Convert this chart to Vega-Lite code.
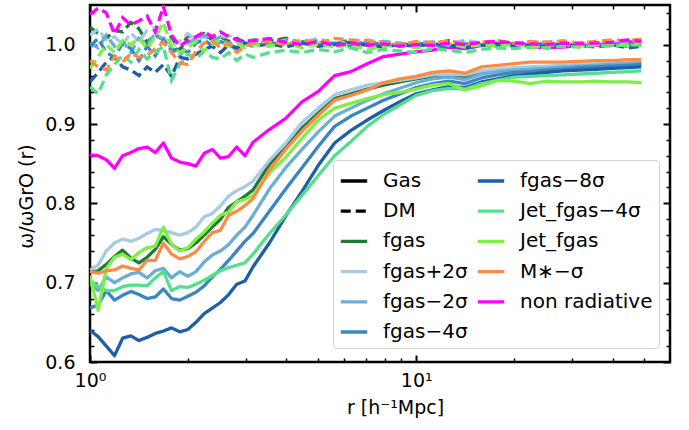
{
"$schema": "https://vega.github.io/schema/vega-lite/v6.json",
"width": 580, "height": 357,
"autosize": {"type": "none"},
"padding": {"left": 90, "top": 5, "right": 19, "bottom": 68},
"background": "white",
"config": {
  "font": "DejaVu Sans",
  "view": {"stroke": "#000000", "strokeWidth": 2.5},
  "axis": {"grid": false, "domain": false, "labelFont": "DejaVu Sans", "titleFont": "DejaVu Sans", "labelFontSize": 19, "titleFontSize": 19, "labelColor": "#000000", "titleColor": "#000000", "titleFontWeight": "normal", "tickColor": "#000000", "labelFlush": false, "zindex": 1},
  "legend": {"orient": "none", "legendX": 243, "legendY": 155, "columns": 2, "gridAlign": "each", "symbolType": "stroke", "symbolSize": 700, "symbolStrokeWidth": 3.3, "labelFontSize": 20, "labelFont": "DejaVu Sans", "labelColor": "#000000", "padding": 6, "rowPadding": 5.2, "columnPadding": 3, "labelOffset": 14, "strokeColor": "#d0d0d0", "fillColor": "#ffffff", "cornerRadius": 4, "labelLimit": 300}
},
"data": {"values": [
{"model":"fgas","r":1,"gas":0.713,"dm":1.022},{"model":"fgas","r":1.059,"gas":0.715,"dm":1.014},{"model":"fgas","r":1.122,"gas":0.723,"dm":1.008},{"model":"fgas","r":1.189,"gas":0.733,"dm":1.018},{"model":"fgas","r":1.259,"gas":0.741,"dm":1.016},{"model":"fgas","r":1.334,"gas":0.731,"dm":1.028},{"model":"fgas","r":1.413,"gas":0.725,"dm":1.020},{"model":"fgas","r":1.496,"gas":0.732,"dm":1.003},{"model":"fgas","r":1.585,"gas":0.742,"dm":1.012},{"model":"fgas","r":1.679,"gas":0.758,"dm":1.006},{"model":"fgas","r":1.778,"gas":0.748,"dm":1.010},{"model":"fgas","r":1.884,"gas":0.741,"dm":0.992},{"model":"fgas","r":1.995,"gas":0.743,"dm":1.012},{"model":"fgas","r":2.113,"gas":0.750,"dm":1.008},{"model":"fgas","r":2.239,"gas":0.760,"dm":1.014},{"model":"fgas","r":2.371,"gas":0.770,"dm":1.006},{"model":"fgas","r":2.512,"gas":0.780,"dm":1.010},{"model":"fgas","r":2.661,"gas":0.795,"dm":1.004},{"model":"fgas","r":2.818,"gas":0.802,"dm":1.008},{"model":"fgas","r":2.985,"gas":0.809,"dm":1.003},{"model":"fgas","r":3.162,"gas":0.817,"dm":1.006},{"model":"fgas","r":3.548,"gas":0.849,"dm":1.004},{"model":"fgas","r":3.981,"gas":0.870,"dm":1.008},{"model":"fgas","r":4.467,"gas":0.895,"dm":1.002},{"model":"fgas","r":5.012,"gas":0.914,"dm":1.005},{"model":"fgas","r":5.623,"gas":0.932,"dm":1.001},{"model":"fgas","r":6.31,"gas":0.938,"dm":1.006},{"model":"fgas","r":7.079,"gas":0.944,"dm":1.000},{"model":"fgas","r":7.943,"gas":0.949,"dm":1.004},{"model":"fgas","r":8.913,"gas":0.953,"dm":0.999},{"model":"fgas","r":10,"gas":0.957,"dm":1.003},{"model":"fgas","r":11.22,"gas":0.960,"dm":1.001},{"model":"fgas","r":12.59,"gas":0.962,"dm":1.005},{"model":"fgas","r":14.13,"gas":0.958,"dm":0.999},{"model":"fgas","r":15.85,"gas":0.966,"dm":1.002},{"model":"fgas","r":17.78,"gas":0.968,"dm":1.004},{"model":"fgas","r":19.95,"gas":0.970,"dm":1.001},{"model":"fgas","r":22.39,"gas":0.971,"dm":1.003},{"model":"fgas","r":25.12,"gas":0.972,"dm":1.000},{"model":"fgas","r":28.18,"gas":0.973,"dm":1.002},{"model":"fgas","r":31.62,"gas":0.974,"dm":0.999},{"model":"fgas","r":35.48,"gas":0.975,"dm":1.001},{"model":"fgas","r":39.81,"gas":0.975,"dm":1.000},{"model":"fgas","r":44.67,"gas":0.976,"dm":0.998},{"model":"fgas","r":48.98,"gas":0.976,"dm":1.000},
{"model":"fgas+2σ","r":1,"gas":0.716,"dm":1.012},{"model":"fgas+2σ","r":1.059,"gas":0.722,"dm":1.020},{"model":"fgas+2σ","r":1.122,"gas":0.740,"dm":1.006},{"model":"fgas+2σ","r":1.189,"gas":0.750,"dm":1.010},{"model":"fgas+2σ","r":1.259,"gas":0.755,"dm":1.000},{"model":"fgas+2σ","r":1.334,"gas":0.752,"dm":1.015},{"model":"fgas+2σ","r":1.413,"gas":0.756,"dm":1.004},{"model":"fgas+2σ","r":1.496,"gas":0.762,"dm":1.018},{"model":"fgas+2σ","r":1.585,"gas":0.767,"dm":1.022},{"model":"fgas+2σ","r":1.679,"gas":0.766,"dm":1.010},{"model":"fgas+2σ","r":1.778,"gas":0.763,"dm":0.998},{"model":"fgas+2σ","r":1.884,"gas":0.760,"dm":1.004},{"model":"fgas+2σ","r":1.995,"gas":0.763,"dm":1.014},{"model":"fgas+2σ","r":2.113,"gas":0.770,"dm":1.006},{"model":"fgas+2σ","r":2.239,"gas":0.783,"dm":1.010},{"model":"fgas+2σ","r":2.371,"gas":0.787,"dm":1.002},{"model":"fgas+2σ","r":2.512,"gas":0.797,"dm":1.008},{"model":"fgas+2σ","r":2.661,"gas":0.809,"dm":1.012},{"model":"fgas+2σ","r":2.818,"gas":0.816,"dm":1.004},{"model":"fgas+2σ","r":2.985,"gas":0.821,"dm":1.000},{"model":"fgas+2σ","r":3.162,"gas":0.828,"dm":1.006},{"model":"fgas+2σ","r":3.548,"gas":0.854,"dm":1.002},{"model":"fgas+2σ","r":3.981,"gas":0.876,"dm":1.006},{"model":"fgas+2σ","r":4.467,"gas":0.902,"dm":1.003},{"model":"fgas+2σ","r":5.012,"gas":0.920,"dm":1.008},{"model":"fgas+2σ","r":5.623,"gas":0.937,"dm":1.001},{"model":"fgas+2σ","r":6.31,"gas":0.943,"dm":1.004},{"model":"fgas+2σ","r":7.079,"gas":0.949,"dm":1.006},{"model":"fgas+2σ","r":7.943,"gas":0.952,"dm":1.002},{"model":"fgas+2σ","r":8.913,"gas":0.955,"dm":1.000},{"model":"fgas+2σ","r":10,"gas":0.958,"dm":1.003},{"model":"fgas+2σ","r":11.22,"gas":0.962,"dm":1.004},{"model":"fgas+2σ","r":12.59,"gas":0.963,"dm":1.001},{"model":"fgas+2σ","r":14.13,"gas":0.962,"dm":1.006},{"model":"fgas+2σ","r":15.85,"gas":0.967,"dm":1.002},{"model":"fgas+2σ","r":17.78,"gas":0.969,"dm":1.003},{"model":"fgas+2σ","r":19.95,"gas":0.971,"dm":1.000},{"model":"fgas+2σ","r":22.39,"gas":0.972,"dm":1.002},{"model":"fgas+2σ","r":25.12,"gas":0.973,"dm":1.004},{"model":"fgas+2σ","r":28.18,"gas":0.974,"dm":1.001},{"model":"fgas+2σ","r":31.62,"gas":0.975,"dm":1.003},{"model":"fgas+2σ","r":35.48,"gas":0.976,"dm":1.002},{"model":"fgas+2σ","r":39.81,"gas":0.976,"dm":1.004},{"model":"fgas+2σ","r":44.67,"gas":0.977,"dm":1.006},{"model":"fgas+2σ","r":48.98,"gas":0.977,"dm":1.005},
{"model":"fgas−2σ","r":1,"gas":0.698,"dm":1.002},{"model":"fgas−2σ","r":1.059,"gas":0.690,"dm":0.996},{"model":"fgas−2σ","r":1.122,"gas":0.707,"dm":1.012},{"model":"fgas−2σ","r":1.189,"gas":0.700,"dm":0.998},{"model":"fgas−2σ","r":1.259,"gas":0.706,"dm":1.004},{"model":"fgas−2σ","r":1.334,"gas":0.711,"dm":0.990},{"model":"fgas−2σ","r":1.413,"gas":0.713,"dm":1.008},{"model":"fgas−2σ","r":1.496,"gas":0.706,"dm":1.000},{"model":"fgas−2σ","r":1.585,"gas":0.715,"dm":1.014},{"model":"fgas−2σ","r":1.679,"gas":0.718,"dm":1.006},{"model":"fgas−2σ","r":1.778,"gas":0.706,"dm":0.996},{"model":"fgas−2σ","r":1.884,"gas":0.714,"dm":0.985},{"model":"fgas−2σ","r":1.995,"gas":0.708,"dm":1.002},{"model":"fgas−2σ","r":2.113,"gas":0.714,"dm":1.008},{"model":"fgas−2σ","r":2.239,"gas":0.726,"dm":1.012},{"model":"fgas−2σ","r":2.371,"gas":0.735,"dm":1.004},{"model":"fgas−2σ","r":2.512,"gas":0.740,"dm":1.010},{"model":"fgas−2σ","r":2.661,"gas":0.748,"dm":1.000},{"model":"fgas−2σ","r":2.818,"gas":0.760,"dm":1.006},{"model":"fgas−2σ","r":2.985,"gas":0.770,"dm":0.998},{"model":"fgas−2σ","r":3.162,"gas":0.785,"dm":1.004},{"model":"fgas−2σ","r":3.548,"gas":0.818,"dm":1.000},{"model":"fgas−2σ","r":3.981,"gas":0.845,"dm":1.005},{"model":"fgas−2σ","r":4.467,"gas":0.868,"dm":1.002},{"model":"fgas−2σ","r":5.012,"gas":0.890,"dm":1.006},{"model":"fgas−2σ","r":5.623,"gas":0.910,"dm":1.000},{"model":"fgas−2σ","r":6.31,"gas":0.920,"dm":1.003},{"model":"fgas−2σ","r":7.079,"gas":0.930,"dm":1.001},{"model":"fgas−2σ","r":7.943,"gas":0.938,"dm":1.004},{"model":"fgas−2σ","r":8.913,"gas":0.945,"dm":1.002},{"model":"fgas−2σ","r":10,"gas":0.952,"dm":1.000},{"model":"fgas−2σ","r":11.22,"gas":0.957,"dm":1.003},{"model":"fgas−2σ","r":12.59,"gas":0.959,"dm":0.999},{"model":"fgas−2σ","r":14.13,"gas":0.956,"dm":1.004},{"model":"fgas−2σ","r":15.85,"gas":0.963,"dm":1.001},{"model":"fgas−2σ","r":17.78,"gas":0.966,"dm":1.002},{"model":"fgas−2σ","r":19.95,"gas":0.968,"dm":1.000},{"model":"fgas−2σ","r":22.39,"gas":0.969,"dm":1.003},{"model":"fgas−2σ","r":25.12,"gas":0.970,"dm":1.001},{"model":"fgas−2σ","r":28.18,"gas":0.972,"dm":1.000},{"model":"fgas−2σ","r":31.62,"gas":0.973,"dm":1.002},{"model":"fgas−2σ","r":35.48,"gas":0.974,"dm":1.001},{"model":"fgas−2σ","r":39.81,"gas":0.975,"dm":1.000},{"model":"fgas−2σ","r":44.67,"gas":0.976,"dm":1.003},{"model":"fgas−2σ","r":48.98,"gas":0.977,"dm":1.004},
{"model":"fgas−4σ","r":1,"gas":0.668,"dm":0.998},{"model":"fgas−4σ","r":1.059,"gas":0.672,"dm":1.008},{"model":"fgas−4σ","r":1.122,"gas":0.690,"dm":0.990},{"model":"fgas−4σ","r":1.189,"gas":0.678,"dm":0.984},{"model":"fgas−4σ","r":1.259,"gas":0.684,"dm":1.002},{"model":"fgas−4σ","r":1.334,"gas":0.689,"dm":0.995},{"model":"fgas−4σ","r":1.413,"gas":0.685,"dm":0.980},{"model":"fgas−4σ","r":1.496,"gas":0.680,"dm":0.998},{"model":"fgas−4σ","r":1.585,"gas":0.682,"dm":0.986},{"model":"fgas−4σ","r":1.679,"gas":0.692,"dm":1.006},{"model":"fgas−4σ","r":1.778,"gas":0.680,"dm":0.992},{"model":"fgas−4σ","r":1.884,"gas":0.678,"dm":0.996},{"model":"fgas−4σ","r":1.995,"gas":0.683,"dm":0.990},{"model":"fgas−4σ","r":2.113,"gas":0.688,"dm":1.002},{"model":"fgas−4σ","r":2.239,"gas":0.696,"dm":1.006},{"model":"fgas−4σ","r":2.371,"gas":0.707,"dm":0.998},{"model":"fgas−4σ","r":2.512,"gas":0.717,"dm":1.004},{"model":"fgas−4σ","r":2.661,"gas":0.728,"dm":1.000},{"model":"fgas−4σ","r":2.818,"gas":0.740,"dm":0.994},{"model":"fgas−4σ","r":2.985,"gas":0.752,"dm":1.002},{"model":"fgas−4σ","r":3.162,"gas":0.762,"dm":0.998},{"model":"fgas−4σ","r":3.548,"gas":0.790,"dm":1.003},{"model":"fgas−4σ","r":3.981,"gas":0.818,"dm":0.999},{"model":"fgas−4σ","r":4.467,"gas":0.845,"dm":1.004},{"model":"fgas−4σ","r":5.012,"gas":0.872,"dm":1.000},{"model":"fgas−4σ","r":5.623,"gas":0.897,"dm":1.002},{"model":"fgas−4σ","r":6.31,"gas":0.910,"dm":0.998},{"model":"fgas−4σ","r":7.079,"gas":0.920,"dm":1.003},{"model":"fgas−4σ","r":7.943,"gas":0.930,"dm":1.000},{"model":"fgas−4σ","r":8.913,"gas":0.938,"dm":0.999},{"model":"fgas−4σ","r":10,"gas":0.946,"dm":1.002},{"model":"fgas−4σ","r":11.22,"gas":0.951,"dm":1.000},{"model":"fgas−4σ","r":12.59,"gas":0.954,"dm":0.998},{"model":"fgas−4σ","r":14.13,"gas":0.951,"dm":1.001},{"model":"fgas−4σ","r":15.85,"gas":0.958,"dm":1.000},{"model":"fgas−4σ","r":17.78,"gas":0.962,"dm":0.998},{"model":"fgas−4σ","r":19.95,"gas":0.965,"dm":1.001},{"model":"fgas−4σ","r":22.39,"gas":0.966,"dm":0.999},{"model":"fgas−4σ","r":25.12,"gas":0.968,"dm":1.002},{"model":"fgas−4σ","r":28.18,"gas":0.969,"dm":1.000},{"model":"fgas−4σ","r":31.62,"gas":0.971,"dm":0.998},{"model":"fgas−4σ","r":35.48,"gas":0.972,"dm":1.000},{"model":"fgas−4σ","r":39.81,"gas":0.973,"dm":1.001},{"model":"fgas−4σ","r":44.67,"gas":0.974,"dm":0.999},{"model":"fgas−4σ","r":48.98,"gas":0.975,"dm":1.002},
{"model":"fgas−8σ","r":1,"gas":0.640,"dm":0.953},{"model":"fgas−8σ","r":1.059,"gas":0.632,"dm":0.965},{"model":"fgas−8σ","r":1.122,"gas":0.620,"dm":0.978},{"model":"fgas−8σ","r":1.189,"gas":0.608,"dm":0.985},{"model":"fgas−8σ","r":1.259,"gas":0.630,"dm":0.972},{"model":"fgas−8σ","r":1.334,"gas":0.633,"dm":0.968},{"model":"fgas−8σ","r":1.413,"gas":0.627,"dm":0.961},{"model":"fgas−8σ","r":1.496,"gas":0.631,"dm":0.972},{"model":"fgas−8σ","r":1.585,"gas":0.636,"dm":0.965},{"model":"fgas−8σ","r":1.679,"gas":0.639,"dm":0.975},{"model":"fgas−8σ","r":1.778,"gas":0.643,"dm":0.960},{"model":"fgas−8σ","r":1.884,"gas":0.638,"dm":0.984},{"model":"fgas−8σ","r":1.995,"gas":0.641,"dm":0.982},{"model":"fgas−8σ","r":2.113,"gas":0.650,"dm":0.988},{"model":"fgas−8σ","r":2.239,"gas":0.661,"dm":0.994},{"model":"fgas−8σ","r":2.371,"gas":0.668,"dm":0.998},{"model":"fgas−8σ","r":2.512,"gas":0.675,"dm":0.990},{"model":"fgas−8σ","r":2.661,"gas":0.685,"dm":1.000},{"model":"fgas−8σ","r":2.818,"gas":0.698,"dm":0.996},{"model":"fgas−8σ","r":2.985,"gas":0.702,"dm":1.002},{"model":"fgas−8σ","r":3.162,"gas":0.720,"dm":0.998},{"model":"fgas−8σ","r":3.548,"gas":0.750,"dm":1.001},{"model":"fgas−8σ","r":3.981,"gas":0.784,"dm":0.997},{"model":"fgas−8σ","r":4.467,"gas":0.815,"dm":1.002},{"model":"fgas−8σ","r":5.012,"gas":0.848,"dm":0.998},{"model":"fgas−8σ","r":5.623,"gas":0.876,"dm":1.000},{"model":"fgas−8σ","r":6.31,"gas":0.892,"dm":1.003},{"model":"fgas−8σ","r":7.079,"gas":0.905,"dm":0.999},{"model":"fgas−8σ","r":7.943,"gas":0.917,"dm":0.997},{"model":"fgas−8σ","r":8.913,"gas":0.928,"dm":1.000},{"model":"fgas−8σ","r":10,"gas":0.938,"dm":0.998},{"model":"fgas−8σ","r":11.22,"gas":0.943,"dm":1.001},{"model":"fgas−8σ","r":12.59,"gas":0.947,"dm":0.999},{"model":"fgas−8σ","r":14.13,"gas":0.946,"dm":0.996},{"model":"fgas−8σ","r":15.85,"gas":0.953,"dm":0.999},{"model":"fgas−8σ","r":17.78,"gas":0.957,"dm":1.001},{"model":"fgas−8σ","r":19.95,"gas":0.961,"dm":0.998},{"model":"fgas−8σ","r":22.39,"gas":0.963,"dm":1.000},{"model":"fgas−8σ","r":25.12,"gas":0.965,"dm":0.997},{"model":"fgas−8σ","r":28.18,"gas":0.967,"dm":1.000},{"model":"fgas−8σ","r":31.62,"gas":0.968,"dm":0.999},{"model":"fgas−8σ","r":35.48,"gas":0.969,"dm":0.997},{"model":"fgas−8σ","r":39.81,"gas":0.970,"dm":1.000},{"model":"fgas−8σ","r":44.67,"gas":0.971,"dm":0.996},{"model":"fgas−8σ","r":48.98,"gas":0.972,"dm":0.998},
{"model":"Jet_fgas−4σ","r":1,"gas":0.703,"dm":0.947},{"model":"Jet_fgas−4σ","r":1.059,"gas":0.695,"dm":0.938},{"model":"Jet_fgas−4σ","r":1.122,"gas":0.690,"dm":0.962},{"model":"Jet_fgas−4σ","r":1.189,"gas":0.690,"dm":0.975},{"model":"Jet_fgas−4σ","r":1.259,"gas":0.695,"dm":0.987},{"model":"Jet_fgas−4σ","r":1.334,"gas":0.697,"dm":0.978},{"model":"Jet_fgas−4σ","r":1.413,"gas":0.697,"dm":0.994},{"model":"Jet_fgas−4σ","r":1.496,"gas":0.696,"dm":0.982},{"model":"Jet_fgas−4σ","r":1.585,"gas":0.706,"dm":0.990},{"model":"Jet_fgas−4σ","r":1.679,"gas":0.714,"dm":0.998},{"model":"Jet_fgas−4σ","r":1.778,"gas":0.690,"dm":0.955},{"model":"Jet_fgas−4σ","r":1.884,"gas":0.695,"dm":0.975},{"model":"Jet_fgas−4σ","r":1.995,"gas":0.694,"dm":0.988},{"model":"Jet_fgas−4σ","r":2.113,"gas":0.698,"dm":0.982},{"model":"Jet_fgas−4σ","r":2.239,"gas":0.703,"dm":0.992},{"model":"Jet_fgas−4σ","r":2.371,"gas":0.709,"dm":0.984},{"model":"Jet_fgas−4σ","r":2.512,"gas":0.715,"dm":0.982},{"model":"Jet_fgas−4σ","r":2.661,"gas":0.719,"dm":0.990},{"model":"Jet_fgas−4σ","r":2.818,"gas":0.722,"dm":0.980},{"model":"Jet_fgas−4σ","r":2.985,"gas":0.725,"dm":0.988},{"model":"Jet_fgas−4σ","r":3.162,"gas":0.736,"dm":0.984},{"model":"Jet_fgas−4σ","r":3.548,"gas":0.762,"dm":0.990},{"model":"Jet_fgas−4σ","r":3.981,"gas":0.785,"dm":0.993},{"model":"Jet_fgas−4σ","r":4.467,"gas":0.810,"dm":0.990},{"model":"Jet_fgas−4σ","r":5.012,"gas":0.835,"dm":0.994},{"model":"Jet_fgas−4σ","r":5.623,"gas":0.860,"dm":0.991},{"model":"Jet_fgas−4σ","r":6.31,"gas":0.878,"dm":0.996},{"model":"Jet_fgas−4σ","r":7.079,"gas":0.897,"dm":0.990},{"model":"Jet_fgas−4σ","r":7.943,"gas":0.912,"dm":0.994},{"model":"Jet_fgas−4σ","r":8.913,"gas":0.924,"dm":0.992},{"model":"Jet_fgas−4σ","r":10,"gas":0.936,"dm":0.990},{"model":"Jet_fgas−4σ","r":11.22,"gas":0.942,"dm":0.995},{"model":"Jet_fgas−4σ","r":12.59,"gas":0.945,"dm":0.993},{"model":"Jet_fgas−4σ","r":14.13,"gas":0.944,"dm":0.990},{"model":"Jet_fgas−4σ","r":15.85,"gas":0.951,"dm":0.994},{"model":"Jet_fgas−4σ","r":17.78,"gas":0.955,"dm":0.996},{"model":"Jet_fgas−4σ","r":19.95,"gas":0.959,"dm":0.995},{"model":"Jet_fgas−4σ","r":22.39,"gas":0.960,"dm":0.997},{"model":"Jet_fgas−4σ","r":25.12,"gas":0.961,"dm":0.996},{"model":"Jet_fgas−4σ","r":28.18,"gas":0.962,"dm":0.998},{"model":"Jet_fgas−4σ","r":31.62,"gas":0.963,"dm":0.997},{"model":"Jet_fgas−4σ","r":35.48,"gas":0.964,"dm":0.999},{"model":"Jet_fgas−4σ","r":39.81,"gas":0.965,"dm":0.998},{"model":"Jet_fgas−4σ","r":44.67,"gas":0.966,"dm":1.000},{"model":"Jet_fgas−4σ","r":48.98,"gas":0.967,"dm":0.999},
{"model":"Jet_fgas","r":1,"gas":0.709,"dm":0.970},{"model":"Jet_fgas","r":1.059,"gas":0.665,"dm":0.985},{"model":"Jet_fgas","r":1.122,"gas":0.718,"dm":1.000},{"model":"Jet_fgas","r":1.189,"gas":0.732,"dm":0.990},{"model":"Jet_fgas","r":1.259,"gas":0.736,"dm":1.005},{"model":"Jet_fgas","r":1.334,"gas":0.729,"dm":1.000},{"model":"Jet_fgas","r":1.413,"gas":0.738,"dm":1.008},{"model":"Jet_fgas","r":1.496,"gas":0.744,"dm":0.995},{"model":"Jet_fgas","r":1.585,"gas":0.746,"dm":1.010},{"model":"Jet_fgas","r":1.679,"gas":0.770,"dm":1.028},{"model":"Jet_fgas","r":1.778,"gas":0.748,"dm":0.998},{"model":"Jet_fgas","r":1.884,"gas":0.740,"dm":0.990},{"model":"Jet_fgas","r":1.995,"gas":0.744,"dm":0.996},{"model":"Jet_fgas","r":2.113,"gas":0.755,"dm":1.004},{"model":"Jet_fgas","r":2.239,"gas":0.764,"dm":0.992},{"model":"Jet_fgas","r":2.371,"gas":0.775,"dm":1.000},{"model":"Jet_fgas","r":2.512,"gas":0.785,"dm":1.006},{"model":"Jet_fgas","r":2.661,"gas":0.789,"dm":0.998},{"model":"Jet_fgas","r":2.818,"gas":0.802,"dm":1.002},{"model":"Jet_fgas","r":2.985,"gas":0.805,"dm":0.996},{"model":"Jet_fgas","r":3.162,"gas":0.810,"dm":1.000},{"model":"Jet_fgas","r":3.548,"gas":0.838,"dm":0.998},{"model":"Jet_fgas","r":3.981,"gas":0.858,"dm":1.003},{"model":"Jet_fgas","r":4.467,"gas":0.882,"dm":0.996},{"model":"Jet_fgas","r":5.012,"gas":0.905,"dm":1.001},{"model":"Jet_fgas","r":5.623,"gas":0.920,"dm":0.997},{"model":"Jet_fgas","r":6.31,"gas":0.926,"dm":1.000},{"model":"Jet_fgas","r":7.079,"gas":0.932,"dm":0.994},{"model":"Jet_fgas","r":7.943,"gas":0.937,"dm":0.998},{"model":"Jet_fgas","r":8.913,"gas":0.940,"dm":1.000},{"model":"Jet_fgas","r":10,"gas":0.944,"dm":0.996},{"model":"Jet_fgas","r":11.22,"gas":0.949,"dm":0.999},{"model":"Jet_fgas","r":12.59,"gas":0.951,"dm":1.001},{"model":"Jet_fgas","r":14.13,"gas":0.943,"dm":0.997},{"model":"Jet_fgas","r":15.85,"gas":0.948,"dm":1.000},{"model":"Jet_fgas","r":17.78,"gas":0.955,"dm":0.998},{"model":"Jet_fgas","r":19.95,"gas":0.954,"dm":1.001},{"model":"Jet_fgas","r":22.39,"gas":0.951,"dm":0.997},{"model":"Jet_fgas","r":25.12,"gas":0.954,"dm":0.999},{"model":"Jet_fgas","r":28.18,"gas":0.953,"dm":1.001},{"model":"Jet_fgas","r":31.62,"gas":0.953,"dm":0.998},{"model":"Jet_fgas","r":35.48,"gas":0.954,"dm":1.000},{"model":"Jet_fgas","r":39.81,"gas":0.953,"dm":1.002},{"model":"Jet_fgas","r":44.67,"gas":0.953,"dm":0.999},{"model":"Jet_fgas","r":48.98,"gas":0.952,"dm":1.003},
{"model":"M∗−σ","r":1,"gas":0.714,"dm":0.980},{"model":"M∗−σ","r":1.059,"gas":0.712,"dm":0.972},{"model":"M∗−σ","r":1.122,"gas":0.715,"dm":0.968},{"model":"M∗−σ","r":1.189,"gas":0.716,"dm":0.985},{"model":"M∗−σ","r":1.259,"gas":0.721,"dm":0.978},{"model":"M∗−σ","r":1.334,"gas":0.718,"dm":0.989},{"model":"M∗−σ","r":1.413,"gas":0.716,"dm":0.984},{"model":"M∗−σ","r":1.496,"gas":0.728,"dm":0.986},{"model":"M∗−σ","r":1.585,"gas":0.728,"dm":0.995},{"model":"M∗−σ","r":1.679,"gas":0.750,"dm":1.003},{"model":"M∗−σ","r":1.778,"gas":0.736,"dm":0.990},{"model":"M∗−σ","r":1.884,"gas":0.730,"dm":0.977},{"model":"M∗−σ","r":1.995,"gas":0.733,"dm":0.975},{"model":"M∗−σ","r":2.113,"gas":0.739,"dm":0.992},{"model":"M∗−σ","r":2.239,"gas":0.752,"dm":1.002},{"model":"M∗−σ","r":2.371,"gas":0.763,"dm":1.005},{"model":"M∗−σ","r":2.512,"gas":0.766,"dm":0.996},{"model":"M∗−σ","r":2.661,"gas":0.785,"dm":1.002},{"model":"M∗−σ","r":2.818,"gas":0.790,"dm":0.990},{"model":"M∗−σ","r":2.985,"gas":0.797,"dm":0.998},{"model":"M∗−σ","r":3.162,"gas":0.806,"dm":1.002},{"model":"M∗−σ","r":3.548,"gas":0.842,"dm":1.004},{"model":"M∗−σ","r":3.981,"gas":0.868,"dm":1.000},{"model":"M∗−σ","r":4.467,"gas":0.891,"dm":1.006},{"model":"M∗−σ","r":5.012,"gas":0.911,"dm":1.002},{"model":"M∗−σ","r":5.623,"gas":0.930,"dm":1.008},{"model":"M∗−σ","r":6.31,"gas":0.936,"dm":1.006},{"model":"M∗−σ","r":7.079,"gas":0.943,"dm":1.005},{"model":"M∗−σ","r":7.943,"gas":0.952,"dm":1.003},{"model":"M∗−σ","r":8.913,"gas":0.957,"dm":1.000},{"model":"M∗−σ","r":10,"gas":0.960,"dm":1.004},{"model":"M∗−σ","r":11.22,"gas":0.965,"dm":1.002},{"model":"M∗−σ","r":12.59,"gas":0.967,"dm":1.005},{"model":"M∗−σ","r":14.13,"gas":0.964,"dm":1.001},{"model":"M∗−σ","r":15.85,"gas":0.972,"dm":1.003},{"model":"M∗−σ","r":17.78,"gas":0.974,"dm":1.005},{"model":"M∗−σ","r":19.95,"gas":0.976,"dm":1.002},{"model":"M∗−σ","r":22.39,"gas":0.978,"dm":1.004},{"model":"M∗−σ","r":25.12,"gas":0.978,"dm":1.003},{"model":"M∗−σ","r":28.18,"gas":0.978,"dm":1.005},{"model":"M∗−σ","r":31.62,"gas":0.979,"dm":1.002},{"model":"M∗−σ","r":35.48,"gas":0.980,"dm":1.004},{"model":"M∗−σ","r":39.81,"gas":0.980,"dm":1.006},{"model":"M∗−σ","r":44.67,"gas":0.981,"dm":1.005},{"model":"M∗−σ","r":48.98,"gas":0.981,"dm":1.007},
{"model":"non radiative","r":1,"gas":0.861,"dm":1.038},{"model":"non radiative","r":1.059,"gas":0.860,"dm":1.046},{"model":"non radiative","r":1.122,"gas":0.855,"dm":1.040},{"model":"non radiative","r":1.189,"gas":0.844,"dm":1.013},{"model":"non radiative","r":1.259,"gas":0.860,"dm":1.034},{"model":"non radiative","r":1.334,"gas":0.864,"dm":1.025},{"model":"non radiative","r":1.413,"gas":0.869,"dm":1.030},{"model":"non radiative","r":1.496,"gas":0.871,"dm":1.036},{"model":"non radiative","r":1.585,"gas":0.864,"dm":1.016},{"model":"non radiative","r":1.679,"gas":0.876,"dm":1.048},{"model":"non radiative","r":1.778,"gas":0.857,"dm":1.012},{"model":"non radiative","r":1.884,"gas":0.852,"dm":0.998},{"model":"non radiative","r":1.995,"gas":0.850,"dm":1.005},{"model":"non radiative","r":2.113,"gas":0.847,"dm":1.010},{"model":"non radiative","r":2.239,"gas":0.863,"dm":1.016},{"model":"non radiative","r":2.371,"gas":0.868,"dm":1.010},{"model":"non radiative","r":2.512,"gas":0.857,"dm":1.016},{"model":"non radiative","r":2.661,"gas":0.859,"dm":1.010},{"model":"non radiative","r":2.818,"gas":0.871,"dm":1.006},{"model":"non radiative","r":2.985,"gas":0.860,"dm":1.004},{"model":"non radiative","r":3.162,"gas":0.877,"dm":1.005},{"model":"non radiative","r":3.548,"gas":0.893,"dm":1.008},{"model":"non radiative","r":3.981,"gas":0.907,"dm":1.003},{"model":"non radiative","r":4.467,"gas":0.928,"dm":1.000},{"model":"non radiative","r":5.012,"gas":0.941,"dm":1.004},{"model":"non radiative","r":5.623,"gas":0.961,"dm":0.999},{"model":"non radiative","r":6.31,"gas":0.966,"dm":1.002},{"model":"non radiative","r":7.079,"gas":0.976,"dm":0.999},{"model":"non radiative","r":7.943,"gas":0.985,"dm":1.001},{"model":"non radiative","r":8.913,"gas":0.988,"dm":0.998},{"model":"non radiative","r":10,"gas":0.991,"dm":1.000},{"model":"non radiative","r":11.22,"gas":0.993,"dm":0.999},{"model":"non radiative","r":12.59,"gas":0.997,"dm":1.002},{"model":"non radiative","r":14.13,"gas":0.995,"dm":1.000},{"model":"non radiative","r":15.85,"gas":0.999,"dm":1.003},{"model":"non radiative","r":17.78,"gas":1.002,"dm":1.004},{"model":"non radiative","r":19.95,"gas":1.001,"dm":1.002},{"model":"non radiative","r":22.39,"gas":0.998,"dm":1.001},{"model":"non radiative","r":25.12,"gas":0.996,"dm":1.000},{"model":"non radiative","r":28.18,"gas":0.997,"dm":1.002},{"model":"non radiative","r":31.62,"gas":0.999,"dm":1.001},{"model":"non radiative","r":35.48,"gas":0.999,"dm":1.002},{"model":"non radiative","r":39.81,"gas":1.000,"dm":1.003},{"model":"non radiative","r":44.67,"gas":1.003,"dm":1.006},{"model":"non radiative","r":48.98,"gas":1.005,"dm":1.004}
]},
"layer": [
  {
    "mark": {"type": "line", "strokeWidth": 3.3, "strokeJoin": "round", "clip": true},
    "encoding": {
      "x": {"field": "r", "type": "quantitative", "scale": {"type": "log", "domain": [1, 60], "nice": false},
        "axis": {"orient": "bottom", "values": [1, 10], "labelExpr": "datum.value == 1 ? '10⁰' : '10¹'", "tickSize": -7, "tickWidth": 2, "labelPadding": 16, "title": "r [h⁻¹Mpc]", "titlePadding": 8, "titleX": 305}},
      "y": {"field": "gas", "type": "quantitative", "scale": {"domain": [0.6, 1.05], "nice": false, "zero": false},
        "axis": {"orient": "left", "values": [0.6, 0.7, 0.8, 0.9, 1.0], "format": ".1f", "tickSize": -7, "tickWidth": 2, "labelPadding": 22, "title": "ω/ωGrO (r)", "titlePadding": 8, "titleY": 191}},
      "color": {"field": "model", "type": "nominal",
        "scale": {"domain": ["Gas", "DM", "fgas", "fgas+2σ", "fgas−2σ", "fgas−4σ", "fgas−8σ", "Jet_fgas−4σ", "Jet_fgas", "M∗−σ", "non radiative"],
                  "range": ["#000000", "#000000", "#1f7a35", "#a6cbe3", "#6aaed6", "#3b86c0", "#1c5fa7", "#55de8c", "#7cf046", "#fd8a45", "#ff00ff"]},
        "legend": {"title": null, "encode": {"symbols": {"update": {"strokeDash": {"signal": "datum.value === 'DM' ? [10, 5] : [1, 0]"}}}}}}
    }
  },
  {
    "mark": {"type": "line", "strokeWidth": 3.3, "strokeDash": [10, 5], "clip": true},
    "encoding": {
      "x": {"field": "r", "type": "quantitative", "scale": {"type": "log", "domain": [1, 60], "nice": false},
        "axis": {"orient": "bottom", "values": [2, 3, 4, 5, 6, 7, 8, 9, 20, 30, 40, 50], "tickSize": -4, "tickWidth": 1.5, "labels": false, "title": null}},
      "y": {"field": "dm", "type": "quantitative", "scale": {"domain": [0.6, 1.05], "nice": false, "zero": false},
        "axis": {"orient": "left", "values": [0.62, 0.64, 0.66, 0.68, 0.72, 0.74, 0.76, 0.78, 0.82, 0.84, 0.86, 0.88, 0.92, 0.94, 0.96, 0.98, 1.02, 1.04], "tickSize": -4, "tickWidth": 1.5, "labels": false, "title": null}},
      "color": {"field": "model", "type": "nominal"}
    }
  },
  {
    "mark": {"type": "point", "opacity": 0},
    "encoding": {
      "x": {"field": "r", "type": "quantitative", "scale": {"type": "log", "domain": [1, 60], "nice": false},
        "axis": {"orient": "top", "values": [1, 10], "tickSize": -7, "tickWidth": 2, "labels": false, "title": null}},
      "y": {"field": "gas", "type": "quantitative", "scale": {"domain": [0.6, 1.05], "nice": false, "zero": false},
        "axis": {"orient": "right", "values": [0.6, 0.7, 0.8, 0.9, 1.0], "tickSize": -7, "tickWidth": 2, "labels": false, "title": null}}
    }
  },
  {
    "mark": {"type": "point", "opacity": 0},
    "encoding": {
      "x": {"field": "r", "type": "quantitative", "scale": {"type": "log", "domain": [1, 60], "nice": false},
        "axis": {"orient": "top", "values": [2, 3, 4, 5, 6, 7, 8, 9, 20, 30, 40, 50], "tickSize": -4, "tickWidth": 1.5, "labels": false, "title": null}},
      "y": {"field": "gas", "type": "quantitative", "scale": {"domain": [0.6, 1.05], "nice": false, "zero": false},
        "axis": {"orient": "right", "values": [0.62, 0.64, 0.66, 0.68, 0.72, 0.74, 0.76, 0.78, 0.82, 0.84, 0.86, 0.88, 0.92, 0.94, 0.96, 0.98, 1.02, 1.04], "tickSize": -4, "tickWidth": 1.5, "labels": false, "title": null}}
    }
  }
],
"resolve": {"axis": {"x": "independent", "y": "independent"}}
}
